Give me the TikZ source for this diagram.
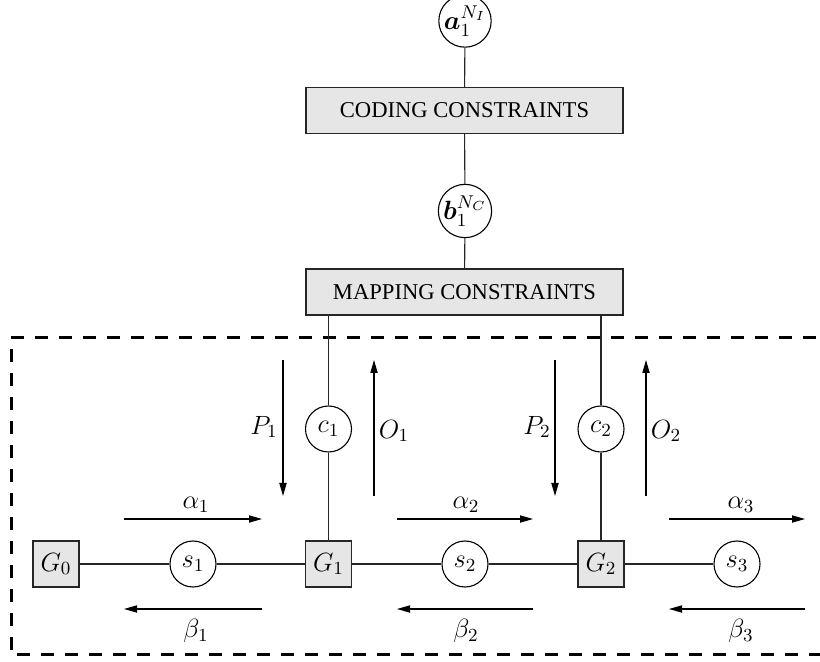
\RequirePackage{fix-cm}
\documentclass[tikz,border=0pt]{standalone}
\usepackage[no-math]{fontspec}
\setmainfont{Liberation Serif}
\usepackage{amsmath,bm}
\usetikzlibrary{arrows.meta}
\definecolor{boxgray}{HTML}{E6E6E6}
\tikzset{
  ln/.style={line width=0.55pt, draw=black!85},
  circ/.style={circle, draw=black, line width=0.55pt, minimum size=23pt, inner sep=0pt, font=\fontsize{13.2}{15}\selectfont},
  gbox/.style={rectangle, draw=black!85, fill=boxgray, line width=0.65pt, minimum size=23pt, inner sep=0pt, font=\fontsize{13.2}{15}\selectfont},
  cbox/.style={rectangle, draw=black!85, fill=boxgray, line width=0.65pt, minimum width=158.5pt, minimum height=22.8pt, inner sep=0pt, font=\fontsize{11.3}{13}\selectfont},
  arr/.style={line width=0.55pt, -{Triangle[length=6.5pt,width=3.6pt]}},
  lbl/.style={inner sep=0pt, font=\fontsize{13.2}{15}\selectfont},
  dashbox/.style={line width=1.5pt, dash pattern=on 6.5pt off 5.5pt}
}
\begin{document}
\begin{tikzpicture}[x=0.5pt, y=-0.5pt]
\useasboundingbox (0,0) rectangle (820,662);
% dashed region
\draw[dashbox] (840,338) -- (11,338) -- (11,655) -- (840,655);
% top column
\node[circ] (a) at (465,21) {$\bm{a}_1^{N_I}$};
\node[cbox] (coding) at (464.5,110.5) {CODING CONSTRAINTS};
\node[circ] (b) at (465,211) {$\bm{b}_1^{N_C}$};
\node[cbox, minimum height=23pt] (mapping) at (464.5,292) {MAPPING CONSTRAINTS};
\draw[ln] (a) -- (coding);
\draw[ln] (coding) -- (b);
\draw[ln] (b) -- (mapping);
% check nodes
\node[circ] (c1) at (328.5,429) {$c_1$};
\node[circ] (c2) at (601,429) {$c_2$};
% chain
\node[gbox] (G0) at (56,564) {$G_0$};
\node[circ] (s1) at (193,564) {$s_1$};
\node[gbox] (G1) at (328.5,564) {$G_1$};
\node[circ] (s2) at (465,564) {$s_2$};
\node[gbox] (G2) at (601,564) {$G_2$};
\node[circ] (s3) at (737,564) {$s_3$};
\draw[ln] (c1) -- (c1 |- mapping.south);
\draw[ln] (c2) -- (c2 |- mapping.south);
\draw[ln] (c1) -- (G1);
\draw[ln] (c2) -- (G2);
\draw[ln] (G0) -- (s1);
\draw[ln] (s1) -- (G1);
\draw[ln] (G1) -- (s2);
\draw[ln] (s2) -- (G2);
\draw[ln] (G2) -- (s3);
% message arrows
\coordinate (P1s) at (283,360); \coordinate (P1e) at (283,496);
\coordinate (O1s) at (374,496); \coordinate (O1e) at (374,360);
\coordinate (P2s) at (555,360); \coordinate (P2e) at (555,496);
\coordinate (O2s) at (646,496); \coordinate (O2e) at (646,360);
\coordinate (a1s) at (124,519); \coordinate (a1e) at (262,519);
\coordinate (b1s) at (262,609); \coordinate (b1e) at (124,609);
\coordinate (a2s) at (397,519); \coordinate (a2e) at (533,519);
\coordinate (b2s) at (533,609); \coordinate (b2e) at (397,609);
\coordinate (a3s) at (669,519); \coordinate (a3e) at (805,519);
\coordinate (b3s) at (805,609); \coordinate (b3e) at (669,609);
\draw[arr] (P1s) -- (P1e);
\draw[arr] (O1s) -- (O1e);
\draw[arr] (P2s) -- (P2e);
\draw[arr] (O2s) -- (O2e);
\draw[arr] (a1s) -- (a1e);
\draw[arr] (b1s) -- (b1e);
\draw[arr] (a2s) -- (a2e);
\draw[arr] (b2s) -- (b2e);
\draw[arr] (a3s) -- (a3e);
\draw[arr] (b3s) -- (b3e);
% labels
\node[lbl] (lP1) at (264,427) {$P_1$};
\node[lbl] (lO1) at (394,431) {$O_1$};
\node[lbl] (lP2) at (537,427) {$P_2$};
\node[lbl] (lO2) at (666,431) {$O_2$};
\node[lbl] (la1) at (196,505) {$\alpha_1$};
\node[lbl] (la2) at (466,505) {$\alpha_2$};
\node[lbl] (la3) at (741,505) {$\alpha_3$};
\node[lbl] (lb1) at (196,631) {$\beta_1$};
\node[lbl] (lb2) at (466,631) {$\beta_2$};
\node[lbl] (lb3) at (741,631) {$\beta_3$};
\end{tikzpicture}
\end{document}
